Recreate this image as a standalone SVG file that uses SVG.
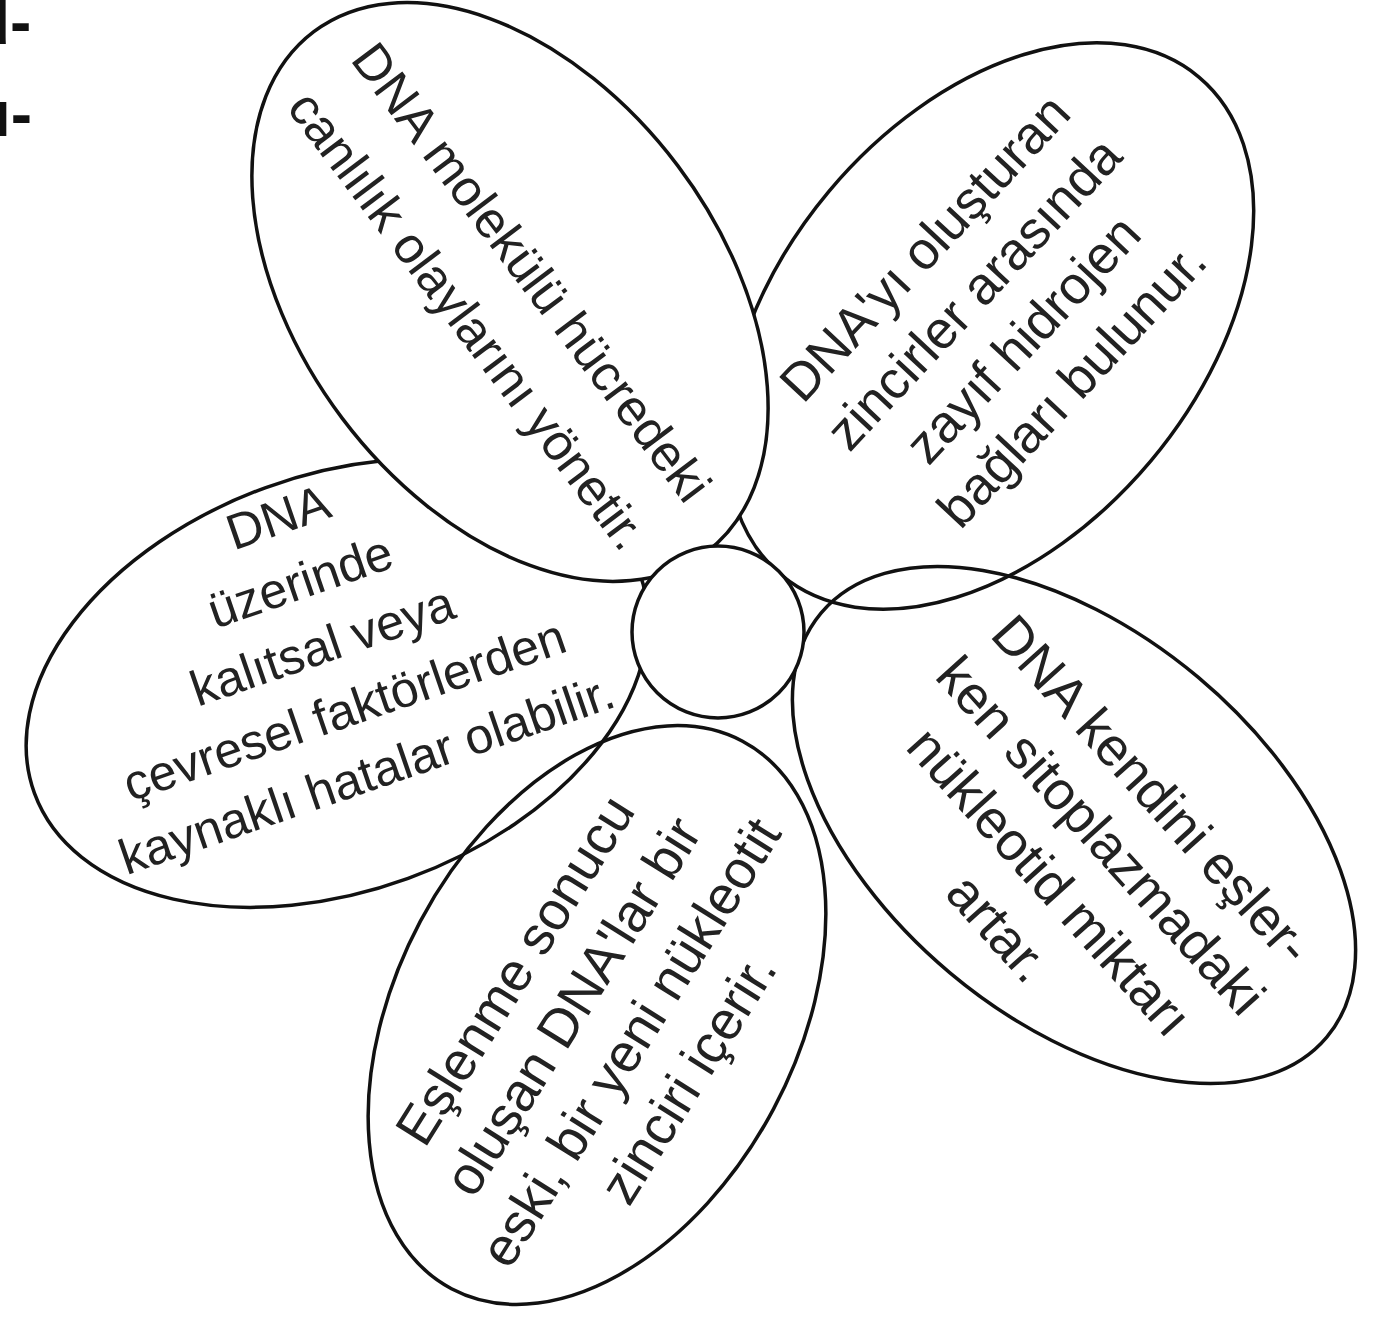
<svg xmlns="http://www.w3.org/2000/svg" width="1373" height="1319" viewBox="0 0 1373 1319">
  <style>
    .petal { stroke: #111; stroke-width: 3.5; }
    .filled { fill: #fff; }
    .open { fill: none; }
    .t { font-family: "Liberation Sans", Arial, sans-serif; font-size: 50px; fill: #222; text-anchor: middle; }
    .edge { font-family: "Liberation Sans", Arial, sans-serif; font-size: 64px; font-weight: bold; fill: #111; }
  </style>
  <rect width="1373" height="1319" fill="#fff"/>
  <g id="margin-text">
    <text class="edge" x="-29" y="44">d-</text>
    <text class="edge" x="-7" y="136">ı-</text>
  </g>
  <g id="connectors"/>
  <g id="petal-2">
    <ellipse class="petal filled" cx="0" cy="0" rx="325" ry="210" transform="translate(990,326) rotate(-50)"/>
    <g transform="translate(998,316) rotate(-47)">
      <text class="t" style="font-size:53px" x="0" y="-82">DNA'yı oluşturan</text>
      <text class="t" style="font-size:53px" x="0" y="-15">zincirler arasında</text>
      <text class="t" style="font-size:53px" x="0" y="52">zayıf hidrojen</text>
      <text class="t" style="font-size:53px" x="0" y="119">bağları bulunur.</text>
    </g>
  </g>
  <g id="petal-3">
    <ellipse class="petal filled" cx="0" cy="0" rx="322" ry="208" transform="translate(337,683) rotate(-20)"/>
    <g transform="translate(322,645) rotate(-19)">
      <text class="t" x="0" y="-118">DNA</text>
      <text class="t" x="0" y="-50">üzerinde</text>
      <text class="t" x="0" y="18">kalıtsal veya</text>
      <text class="t" x="0" y="86">çevresel faktörlerden</text>
      <text class="t" x="0" y="154">kaynaklı hatalar olabilir.</text>
    </g>
  </g>
  <g id="petal-1">
    <ellipse class="petal filled" cx="0" cy="0" rx="326" ry="210" transform="translate(510,292) rotate(53)"/>
    <g transform="translate(500,296) rotate(53)">
      <text class="t" style="font-size:51px" x="0" y="-22">DNA molekülü hücredeki</text>
      <text class="t" style="font-size:51px" x="0" y="58">canlılık olaylarını yönetir.</text>
    </g>
  </g>
  <g id="petal-4">
    <ellipse class="petal open" cx="0" cy="0" rx="310" ry="200" transform="translate(597,1015) rotate(-62)"/>
    <g transform="translate(601,1024) rotate(-58)">
      <text class="t" style="font-size:54px" x="0" y="-83">Eşlenme sonucu</text>
      <text class="t" style="font-size:54px" x="0" y="-15">oluşan DNA'lar bir</text>
      <text class="t" style="font-size:54px" x="0" y="53">eski, bir yeni nükleotit</text>
      <text class="t" style="font-size:54px" x="0" y="121">zinciri içerir.</text>
    </g>
  </g>
  <g id="petal-5">
    <ellipse class="petal open" cx="0" cy="0" rx="330" ry="193" transform="translate(1074,825) rotate(40)"/>
    <g transform="translate(1076,858) rotate(48)">
      <text class="t" style="font-size:54px" x="0" y="-84">DNA kendini eşler-</text>
      <text class="t" style="font-size:54px" x="0" y="-15">ken sitoplazmadaki</text>
      <text class="t" style="font-size:54px" x="0" y="54">nükleotid miktarı</text>
      <text class="t" style="font-size:54px" x="0" y="123">artar.</text>
    </g>
  </g>
  <g id="center">
    <circle class="petal filled" cx="718" cy="632" r="86"/>
  </g>
</svg>
